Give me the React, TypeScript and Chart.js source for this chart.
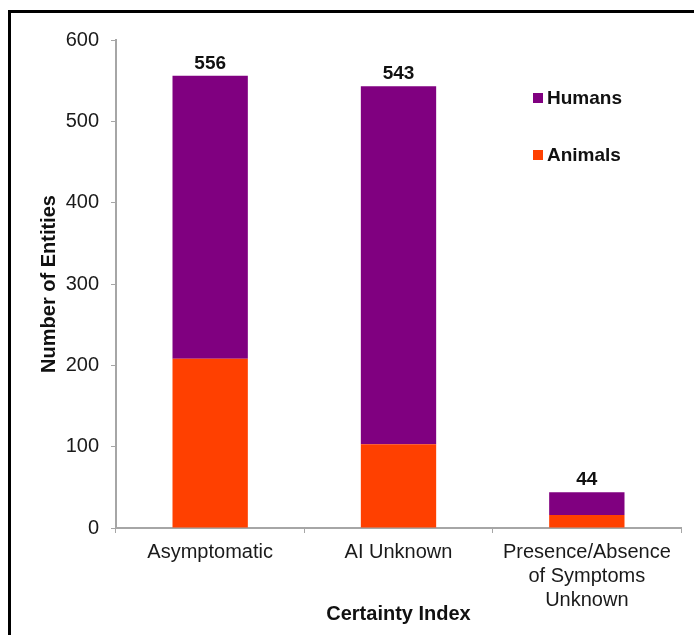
import React, { useEffect, useRef } from "react";
import { Chart, registerables } from "chart.js";

Chart.register(...registerables);

const categories: string[][] = [
  ["Asymptomatic"],
  ["AI Unknown"],
  ["Presence/Absence", "of Symptoms", "Unknown"],
];
const animals = [208, 103, 16];
const humans = [348, 440, 28];
const yTicks = [0, 100, 200, 300, 400, 500, 600];

const FONT = "'Liberation Sans', Arial, sans-serif";
const PURPLE = "#800080";
const ORANGE = "#FF4000";

const totalsPlugin = {
  id: "totals",
  afterDatasetsDraw(chart: any) {
    const ctx = chart.ctx;
    const meta = chart.getDatasetMeta(chart.data.datasets.length - 1);
    ctx.save();
    ctx.font = `bold 19px ${FONT}`;
    ctx.fillStyle = "#111";
    ctx.textAlign = "center";
    ctx.textBaseline = "bottom";
    meta.data.forEach((bar: any, i: number) => {
      const total = chart.data.datasets.reduce(
        (s: number, d: any) => s + (d.data[i] as number),
        0
      );
      ctx.fillText(String(total), bar.x, bar.y - 3);
    });
    ctx.restore();
  },
};

const legendPlugin = {
  id: "customLegend",
  afterDraw(chart: any) {
    const ctx = chart.ctx;
    const ds = [...chart.data.datasets].reverse();
    ctx.save();
    ctx.font = `bold 19px ${FONT}`;
    ctx.textBaseline = "middle";
    ctx.textAlign = "left";
    ds.forEach((d: any, i: number) => {
      const y = 98 + i * 57;
      ctx.fillStyle = d.backgroundColor;
      ctx.fillRect(533, y - 5, 10, 10);
      ctx.fillStyle = "#111";
      ctx.fillText(d.label, 547, y + 1);
    });
    ctx.restore();
  },
};

export default function App() {
  const ref = useRef<HTMLCanvasElement | null>(null);
  useEffect(() => {
    if (!ref.current) return;
    const chart = new Chart(ref.current, {
      type: "bar",
      data: {
        labels: categories,
        datasets: [
          {
            label: "Animals",
            data: animals,
            backgroundColor: ORANGE,
            barPercentage: 0.4,
            categoryPercentage: 1,
          },
          {
            label: "Humans",
            data: humans,
            backgroundColor: PURPLE,
            barPercentage: 0.4,
            categoryPercentage: 1,
          },
        ],
      },
      options: {
        animation: false,
        responsive: false,
        maintainAspectRatio: false,
        layout: { padding: { left: 0, top: 40, right: 13, bottom: 0 } },
        plugins: {
          legend: { display: false },
          tooltip: { enabled: false },
        },
        scales: {
          x: {
            stacked: true,
            afterFit: (s: any) => {
              s.height = 107;
            },
            grid: {
              display: true,
              drawOnChartArea: false,
              tickLength: 5,
              color: "#a6a6a6",
              offset: true,
            },
            border: { color: "#a6a6a6", width: 2 },
            ticks: {
              color: "#1a1a1a",
              font: { family: FONT, size: 20, lineHeight: 1.2 },
              padding: 7,
              maxRotation: 0,
              autoSkip: false,
            },
            title: {
              display: true,
              text: "Certainty Index",
              color: "#111",
              font: { family: FONT, size: 20, weight: "bold", lineHeight: 1.2 },
              padding: { top: 0, bottom: 9 },
            },
          },
          y: {
            stacked: true,
            min: 0,
            max: 600,
            afterFit: (s: any) => {
              s.width = 116;
            },
            afterBuildTicks: (s: any) => {
              s.ticks = yTicks.map((v) => ({ value: v }));
            },
            grid: {
              display: true,
              drawOnChartArea: false,
              tickLength: 5,
              color: "#a6a6a6",
            },
            border: { color: "#a6a6a6", width: 2 },
            ticks: {
              color: "#1a1a1a",
              font: { family: FONT, size: 20 },
              padding: 12,
            },
            title: {
              display: true,
              text: "Number of Entities",
              color: "#111",
              font: { family: FONT, size: 20, weight: "bold", lineHeight: 1.2 },
              padding: { top: 37, bottom: 0 },
            },
          },
        },
      },
      plugins: [totalsPlugin, legendPlugin],
    });
    return () => chart.destroy();
  }, []);

  return (
    <div
      style={{
        position: "fixed",
        left: 0,
        top: 0,
        width: 694,
        height: 635,
        overflow: "hidden",
        background: "#fff",
      }}
    >
      <canvas
        ref={ref}
        width={694}
        height={635}
        style={{ position: "absolute", left: 0, top: 0, width: 694, height: 635 }}
      />
      <div
        style={{
          position: "absolute",
          left: 8,
          top: 10,
          width: 720,
          height: 700,
          borderTop: "3px solid #000",
          borderLeft: "3px solid #000",
          pointerEvents: "none",
        }}
      />
    </div>
  );
}
